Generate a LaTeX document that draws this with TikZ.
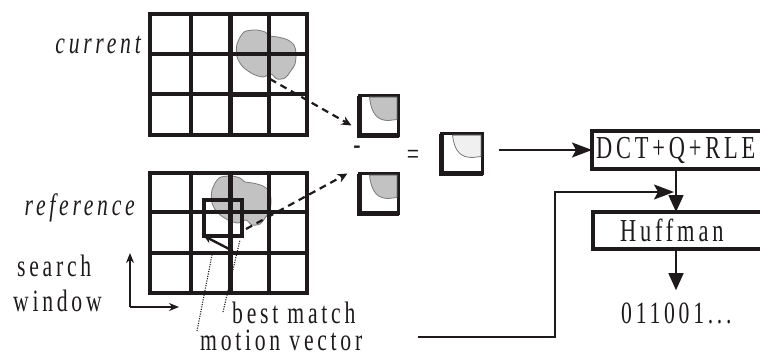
\documentclass[tikz,border=0pt]{standalone}
\usepackage{fontspec}
\setmainfont{Liberation Serif}[FakeStretch=0.7,LetterSpace=12]
\usetikzlibrary{arrows.meta,calc}
\definecolor{ink}{HTML}{1E1A1B}
\definecolor{blobfill}{HTML}{C2C2C2}
\definecolor{blobedge}{HTML}{7A7A7A}
\definecolor{palefill}{HTML}{F0F0F0}
\begin{document}
\begin{tikzpicture}[x=1pt,y=-1pt,
  lbl/.style={font=\fontsize{31}{34}\selectfont, text=ink, inner sep=0pt},
  itlbl/.style={font=\fontsize{31}{34}\selectfont\itshape, text=ink, inner sep=0pt},
  gridline/.style={draw=ink, line width=4pt, line cap=square},
  midline/.style={draw=ink, line width=5pt, line cap=square},
  blob/.style={fill=blobfill, draw=blobedge, line width=0.8pt},
  blk/.style={draw=ink, line width=3.2pt, minimum width=39pt, minimum height=40pt, inner sep=0pt, outer sep=0pt},
  heavy/.style={draw=ink, line width=4.8pt},
  patch/.style={fill=blobfill, draw=blobedge, line width=0.8pt},
  proc/.style={draw=ink, line width=4pt, minimum height=38pt, inner ysep=0pt, outer sep=0pt,
    anchor=west, align=left, font=\fontsize{32}{34}\selectfont, text=ink},
  flow/.style={draw=ink, line width=1.6pt},
  bigtip/.style={-{Stealth[length=20pt,width=15pt,inset=4pt]}},
  droptip/.style={-{Triangle[length=17pt,width=15pt]}},
  smalltip/.style={-{Stealth[length=10pt,width=8pt]}},
  dashtip/.style={draw=ink, line width=2.2pt, dash pattern=on 7pt off 5pt, -{Stealth[length=10pt,width=9pt]}},
  dotline/.style={draw=ink, line width=1.1pt, dash pattern=on 1.1pt off 1.3pt},
]
\useasboundingbox (0,0) rectangle (760,354);

% the moving object, in the current frame and in the reference frame
\foreach \dx/\dy in {0/0,-25/146}{
  \begin{scope}[shift={(\dx,\dy)}]
    \path[blob] plot[smooth cycle, tension=0.5] coordinates {
      (244,32) (256,30) (265,32) (270,36) (278,37) (288,40) (294,45) (296,53)
      (295,64) (290,72) (285,78) (277,79) (271,74) (263,77) (253,74) (243,67)
      (237,57) (237,44)};
  \end{scope}
}

% block grids of the two frames
\foreach \top/\bot/\ra/\rb in {14/135/54/94, 173/293/212/253}{
  \draw[gridline] (150,\top) rectangle (307,\bot);
  \draw[gridline] (150,\ra) -- (307,\ra);
  \draw[gridline] (150,\rb) -- (307,\rb);
  \draw[gridline] (190.5,\top) -- (190.5,\bot);
  \draw[midline] (230,\top) -- (230,\bot);
  \draw[gridline] (269,\top) -- (269,\bot);
}
% current block
\draw[midline, line cap=butt] (230,54) -- (230,94) -- (271,94);

% best match in the reference frame
\node[draw=ink, line width=4pt, minimum width=38pt, minimum height=36pt, inner sep=0pt, outer sep=0pt]
  (bm) at (223,218) {};
\coordinate (mvtail) at (233,251);
\draw[draw=ink, line width=2.4pt, -{Stealth[length=8pt,width=8pt,inset=3pt]}] (mvtail) -- (bm.south west);

% frame labels
\node[itlbl, anchor=base east] (curlbl) at (141,53) {current};
\node[itlbl, anchor=base east] (reflbl) at (135,215) {reference};
\node[lbl, anchor=base west] (search) at (17,276) {search};
\node[lbl, anchor=base west] (window) at (13,311) {window};
\coordinate (swc) at (130,307);
\coordinate (swup) at (130,253);
\coordinate (swright) at (179,307);
\draw[draw=ink, line width=2.2pt, smalltip] (swc) -- (swup);
\draw[draw=ink, line width=2.2pt, smalltip] (swc) -- (swright);

\node[lbl, anchor=base west, text height=21pt, text depth=0pt] (bestlbl) at (232,323) {best match};
\node[lbl, anchor=base west, text height=21pt, text depth=0pt] (mvlbl) at (200,350) {motion vector};
\draw[dotline] (197,331) -- (212,255);
\draw[dotline] (223,312) -- (240,240);

% extracted blocks and their difference
\node[blk] (cblk) at (379,115.5) {};
\node[blk] (rblk) at (379,193.5) {};
\node[blk, minimum width=41pt] (dblk) at (462,153.5) {};
\foreach \n in {cblk,rblk}{
  \begin{scope}[shift={(\n.north west)}]
    \path[patch] (10,1.6) .. controls (12,20) and (19,25) .. (29,25) -- (37.4,24) -- (37.4,1.6) -- cycle;
  \end{scope}
}
\begin{scope}[shift={(dblk.north west)}]
  \path[patch, fill=palefill] (11,1.6) .. controls (13,19) and (20,24) .. (31,24) -- (39.4,23) -- (39.4,1.6) -- cycle;
\end{scope}
\foreach \n in {cblk,rblk,dblk}{
  \draw[heavy] (\n.north west) -- (\n.south west) -- (\n.south east);
}
\node[lbl] (minus) at (357,150) {-};
\node[lbl] (equals) at (413,157) {=};

\coordinate (cstart) at (270,79);
\coordinate (rstart) at (246,229);
\draw[dashtip] (cstart) -- ($(cblk.west)+(-8,10)$);
\draw[dashtip] (rstart) -- ($(rblk.west)+(-12,-20)$);

% coding chain
\node[proc, text width=180pt, inner xsep=4pt] (dct) at (592,150) {DCT+Q+RLE};
\node[proc, minimum height=37pt, text width=150pt, inner xsep=27pt] (huf) at (593,230.5) {Huffman};
\node[lbl, anchor=base west] (bits) at (621,323) {011001...};
\coordinate (col) at (676,0);

\draw[flow, bigtip] ($(dblk.east)+(16,-3.5)$) -- (dct.west |- 0,150);
\draw[flow, droptip] (dct.south -| col) -- (huf.north -| col);
\draw[flow, droptip] (huf.south -| col) -- ($(bits.north -| col)+(0,-12)$);

% motion vector sent alongside the coded residual
\coordinate (fbstart) at (418,337);
\coordinate (fbbend) at (555,192);
\coordinate (fbtip) at (674,192);
\draw[flow, bigtip] (fbstart) -| (fbbend) -- (fbtip);
\end{tikzpicture}
\end{document}
